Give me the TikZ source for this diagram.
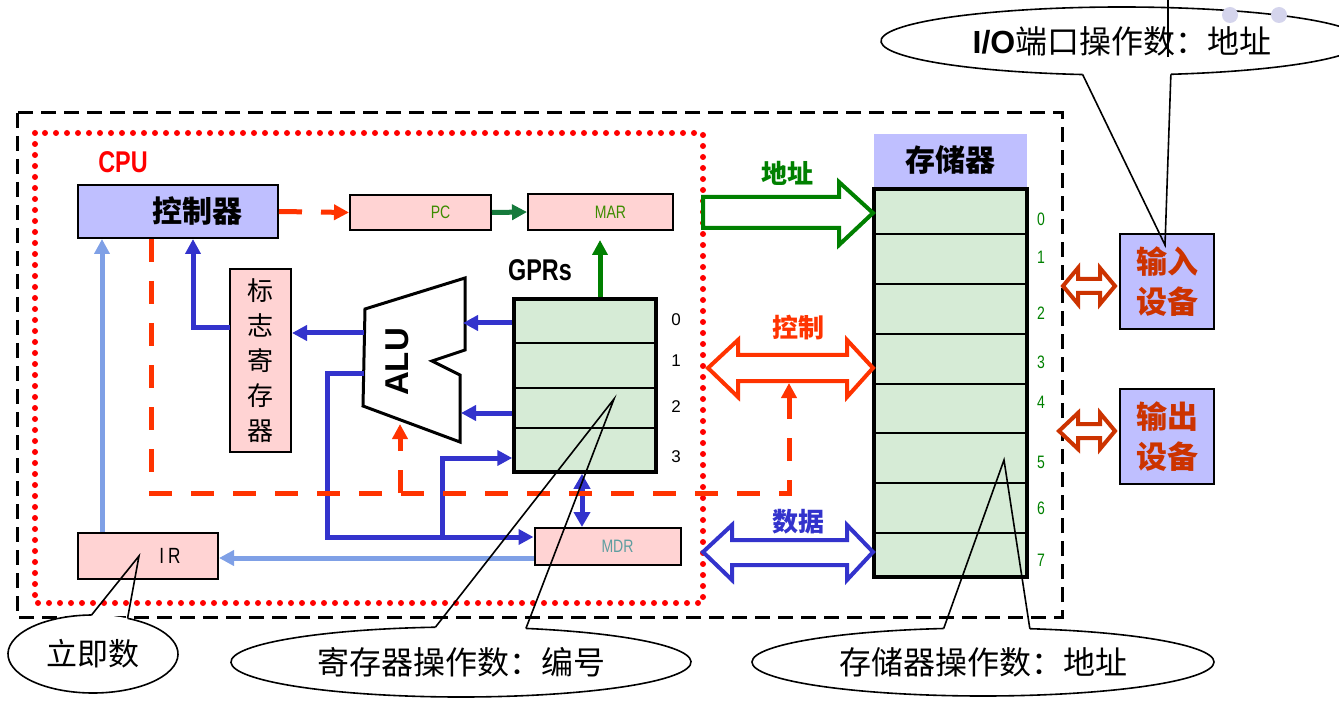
\documentclass[tikz,border=0pt]{standalone}
\usepackage{fontspec}
\setmainfont{Liberation Sans}
\newfontfamily\cjk{Noto Sans CJK SC}
\newfontfamily\narrow[FakeStretch=0.78]{Liberation Sans}
\usetikzlibrary{arrows.meta,shapes.geometric,calc}
\newcommand\myfs[2]{\fontsize{#1}{#2}\selectfont}
\definecolor{lavc}{HTML}{BFBFFF}
\definecolor{pinkc}{HTML}{FFD3D3}
\definecolor{greenc}{HTML}{D6EBD6}
\definecolor{redc}{HTML}{FF3300}
\definecolor{bluec}{HTML}{3333CC}
\definecolor{lbluec}{HTML}{7FA0E6}
\definecolor{grc}{HTML}{008000}
\definecolor{pcgreen}{HTML}{167A3C}
\definecolor{txtgreen}{HTML}{3C8C00}
\definecolor{brownc}{HTML}{CC3300}
\definecolor{mdrc}{HTML}{5F9EA0}
\definecolor{dotc}{HTML}{D4D4EC}
\begin{document}
\begin{tikzpicture}[x=1pt,y=-1pt,
  box/.style={draw=black,line width=2pt,inner sep=0pt},
  pinkbox/.style={box,fill=pinkc},
  lavbox/.style={box,fill=lavc},
  greenbox/.style={draw=black,line width=3.5pt,fill=greenc,inner sep=0pt},
  tipT/.style={-{Triangle[length=15pt,width=15pt]}},
  barrow/.style={draw=bluec,line width=5pt,tipT},
  lbarrow/.style={draw=lbluec,line width=5pt,tipT},
  reddash/.style={draw=redc,line width=5pt,dash pattern=on 23pt off 19pt},
  garrow/.style={draw=grc,line width=5pt,tipT},
  bus/.style={line width=4pt,fill=white,line join=miter},
  callout/.style={draw=black,line width=1.6pt},
  calloutfill/.style={ellipse,fill=white,inner sep=0pt},
  regnum/.style={font=\myfs{17}{17}},
  memnum/.style={font=\narrow\myfs{18}{18},text=grc},
  buslabel/.style={font=\cjk\bfseries\myfs{26}{26}},
  row/.style={draw=black,line width=2pt}
]
\useasboundingbox (0,0) rectangle (1339,703);

% frames
\draw[line width=3pt,dash pattern=on 15pt off 8pt] (17,113) rectangle (1062,617);
\draw[draw=red,line width=6pt,line cap=round,dash pattern=on 0pt off 11pt] (35,133) rectangle (703,603);

\node[text=red,font=\narrow\bfseries\myfs{30}{30}] (cpu) at (123,162) {CPU};

% boxes
\node[lavbox,minimum width=200pt,minimum height=53pt] (ctrl) at (178,211.5)
  {\hspace*{38pt}\cjk\bfseries\myfs{30}{30}控制器};
\node[pinkbox,minimum width=141pt,minimum height=35pt] (pc) at (420.5,212.5)
  {\hspace*{40pt}\narrow\myfs{18}{18}\color{txtgreen}PC};
\node[pinkbox,minimum width=145pt,minimum height=36pt] (mar) at (600.5,212)
  {\hspace*{20pt}\narrow\myfs{18}{18}\color{txtgreen}MAR};
\node[pinkbox,minimum width=61pt,minimum height=183pt,align=center,font=\cjk\myfs{26}{35}] (flag) at (260.5,360.5)
  {标\\志\\寄\\存\\器};
\node[pinkbox,minimum width=140pt,minimum height=46pt] (ir) at (148,556)
  {\hspace*{44pt}\narrow\myfs{22}{22}I\hspace{4pt}R};
\node[pinkbox,minimum width=146pt,minimum height=37pt] (mdr) at (607.5,546.5)
  {\hspace*{20pt}\narrow\myfs{18}{18}\color{mdrc}MDR};

% GPRs
\node[font=\narrow\bfseries\myfs{30}{30}] (gprlabel) at (540,270) {GPRs};
\node[greenbox,minimum width=142pt,minimum height=173pt] (gpr) at (585,385.5) {};
\foreach \yy in {343,388,428} \draw[row] (gpr.west |- 0,\yy) -- (gpr.east |- 0,\yy);
\node[regnum] (g0) at (676,320) {0};
\node[regnum] (g1) at (676,361) {1};
\node[regnum] (g2) at (676,407) {2};
\node[regnum] (g3) at (676,457) {3};

% ALU
\draw[line width=3pt,line join=miter,fill=white] (365,309) -- (465,278) -- (465,350) -- (432,361) -- (460,375) -- (460,442) -- (363,406) -- cycle;
\node[rotate=90,font=\bfseries\myfs{33}{33}] (alu) at (397,362) {ALU};
\coordinate (aluR1) at (463,323);
\coordinate (aluR2) at (461,413);
\coordinate (aluL1) at (364,333);
\coordinate (aluL2) at (364,373);
\coordinate (aluB) at (400,424);

% memory
\node[fill=lavc,minimum width=153pt,minimum height=53pt,inner sep=0pt] (memhead) at (950.5,160.5)
  {\cjk\bfseries\myfs{30}{30}存储器};
\node[draw=black,line width=4pt,fill=greenc,minimum width=153pt,minimum height=388pt,inner sep=0pt] (mem) at (950.5,383) {};
\foreach \yy in {234,284,334,384,433,483,533} \draw[row] (mem.west |- 0,\yy) -- (mem.east |- 0,\yy);
\foreach \n/\yy in {0/219,1/257,2/313,3/362,4/402,5/462,6/508,7/560}
  \node[memnum] (m\n) at (1041,\yy) {\n};

% IO devices
\node[lavbox,minimum width=94pt,minimum height=95pt,align=center,font=\cjk\bfseries\myfs{31}{40},text=brownc] (indev) at (1167,281.5) {输入\\设备};
\node[lavbox,minimum width=94pt,minimum height=95pt,align=center,font=\cjk\bfseries\myfs{31}{40},text=brownc] (outdev) at (1167,436.5) {输出\\设备};
\foreach \cy/\lx in {286/1063,431/1059}
  \draw[draw=brownc,line width=4pt,fill=white,line join=miter]
    (\lx,\cy) -- (1078,\cy-18) -- (1078,\cy-7) -- (1100,\cy-7) -- (1100,\cy-18) -- (1115,\cy)
    -- (1100,\cy+18) -- (1100,\cy+7) -- (1078,\cy+7) -- (1078,\cy+18) -- cycle;

% buses
\draw[bus,draw=grc] (703,197) -- (839,197) -- (839,182) -- (873,213) -- (839,245) -- (839,228) -- (703,228) -- cycle;
\draw[bus,draw=redc] (708,368) -- (738,340) -- (738,355) -- (847,355) -- (847,340) -- (873,368) -- (847,397) -- (847,381) -- (738,381) -- (738,397) -- cycle;
\draw[bus,draw=bluec] (703,552) -- (732,525) -- (732,540) -- (847,540) -- (847,525) -- (873,552) -- (847,580) -- (847,565) -- (732,565) -- (732,580) -- cycle;
\node[buslabel,text=grc] (laddr) at (787,173) {地址};
\node[buslabel,text=redc] (lctrl) at (798,328) {控制};
\node[buslabel,text=bluec] (ldata) at (798,522) {数据};

% connectors
\draw[reddash,tipT] (ctrl.east) -- (pc.west);
\draw[draw=pcgreen,line width=5pt,tipT] (pc.east) -- (mar.west);
\coordinate (xg) at (600,0);
\draw[garrow] (gpr.north -| xg) -- ($(mar.south -| xg)+(0,9)$);
\draw[barrow] (gpr.west |- aluR1) -- (aluR1);
\draw[barrow] (gpr.west |- aluR2) -- (aluR2);
\draw[barrow] (aluL1) -- (flag.east |- aluL1);
\coordinate (xf) at (193,0);
\coordinate (fl) at (230,328);
\draw[barrow] (fl) -| (ctrl.south -| xf);
\coordinate (j1) at (327,373);
\coordinate (j2) at (327,537);
\coordinate (j3) at (442,537);
\draw[barrow] (aluL2) -- (j1) -- (j2) -- (mdr.west |- j2);
\draw[barrow] (j3) |- (gpr.west |- 0,458);
\coordinate (xm) at (582,0);
\draw[draw=bluec,line width=5pt,{Triangle[length=15pt,width=16pt]}-{Triangle[length=15pt,width=16pt]}] (gpr.south -| xm) -- (mdr.north -| xm);
\coordinate (yi) at (0,558);
\draw[lbarrow] (mdr.west |- yi) -- (ir.east |- yi);
\coordinate (xi) at (102,0);
\draw[lbarrow] (ir.north -| xi) -- (ctrl.south -| xi);
\coordinate (xr) at (151,0);
\coordinate (r1) at (151,493);
\coordinate (r2) at (789,493);
\coordinate (r3) at (789,383);
\draw[reddash,tipT] (ctrl.south -| xr) -- (r1) -- (r2) -- (r3);
\coordinate (r4) at (400,493);
\draw[reddash,tipT] (r4) -- (aluB);

% callouts
\node[calloutfill,minimum width=170pt,minimum height=78pt,font=\cjk\myfs{31}{31}] (imm) at (93,654) {立即数};
\draw[callout] ($(imm.center)+(294:85 and 39)$) arc[start angle=294,end angle=629,x radius=85,y radius=39];
\coordinate (immtip) at (139,556);
\draw[callout] ($(imm.center)+(269:85 and 39)$) -- (immtip) -- ($(imm.center)+(294:85 and 39)$);

\node[calloutfill,minimum width=460pt,minimum height=70pt,font=\cjk\myfs{32}{32}] (regop) at (461,662) {寄存器操作数：编号};
\draw[callout] ($(regop.center)+(286.4:230 and 35)$) arc[start angle=286.4,end angle=623.6,x radius=230,y radius=35];
\coordinate (regtip) at (614,399);
\draw[callout] ($(regop.center)+(263.6:230 and 35)$) -- (regtip) -- ($(regop.center)+(286.4:230 and 35)$);

\node[calloutfill,minimum width=462pt,minimum height=68pt,font=\cjk\myfs{32}{32}] (memop) at (983,662) {存储器操作数：地址};
\draw[callout] ($(memop.center)+(281.7:231 and 34)$) arc[start angle=281.7,end angle=620.2,x radius=231,y radius=34];
\coordinate (memtip) at (1004,460);
\draw[callout] ($(memop.center)+(260.2:231 and 34)$) -- (memtip) -- ($(memop.center)+(281.7:231 and 34)$);

\node[calloutfill,minimum width=482pt,minimum height=68pt] (ioop) at (1122,41)
  {{\bfseries\myfs{32}{32}I/O}{\cjk\myfs{32}{32}端口操作数：地址}};
\draw[callout] ($(ioop.center)+(99.4:241 and 34)$) arc[start angle=99.4,end angle=438.3,x radius=241,y radius=34];
\coordinate (iotip) at (1165,245);
\draw[callout] ($(ioop.center)+(99.4:241 and 34)$) -- (iotip) -- ($(ioop.center)+(78.3:241 and 34)$);
\coordinate (vt) at (1168,0);
\coordinate (vb) at (1168,57);
\draw[line width=1.3pt] (vt) -- (vb);
\fill[dotc] (1230,15) circle[radius=8];
\fill[dotc] (1279,15) circle[radius=8];
\end{tikzpicture}
\end{document}
